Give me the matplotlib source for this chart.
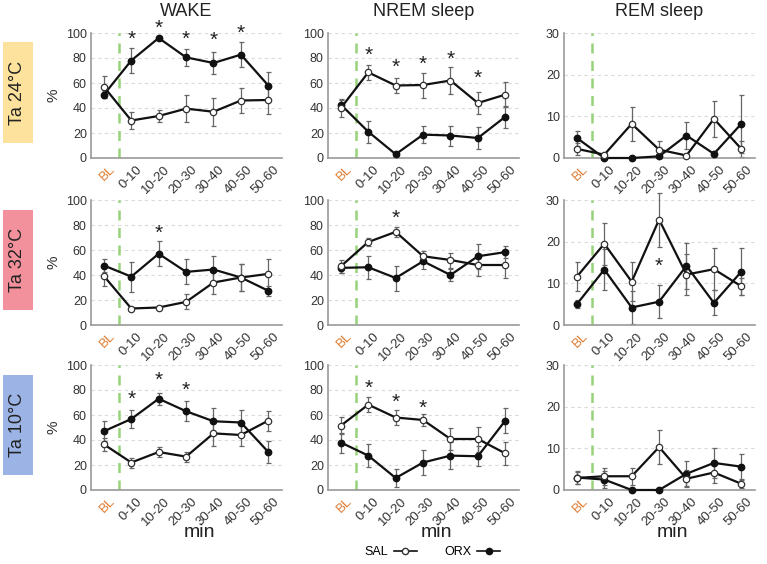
import matplotlib
matplotlib.use('Agg')
import matplotlib.pyplot as plt
from matplotlib.lines import Line2D
from matplotlib.patches import Rectangle
from matplotlib.transforms import ScaledTranslation

plt.rcParams['font.family'] = ['Liberation Sans', 'DejaVu Sans']

categories = ['BL', '0-10', '10-20', '20-30', '30-40', '40-50', '50-60']
states = ['WAKE', 'NREM sleep', 'REM sleep']
temps = ['Ta 24°C', 'Ta 32°C', 'Ta 10°C']
temp_colors = ['#FCE29C', '#F2919B', '#9BB3E5']

# ---- Ta 24°C ----
wake24_sal = [57, 30, 33.6, 39.5, 37, 46, 46.4]
wake24_sal_err = [9, 7, 5, 11, 11, 10, 11]
wake24_orx = [50.7, 78, 96, 80.5, 76, 82.7, 58]
wake24_orx_err = [3, 10, 1, 7, 9, 10, 11]
wake24_star_idx = [1, 2, 3, 4, 5]
wake24_star_y = [95, 104, 95, 94, 100]

nrem24_sal = [40, 68.5, 58, 58.4, 62, 44, 50.7]
nrem24_sal_err = [7, 6, 6, 10, 11, 9, 10]
nrem24_orx = [42.7, 21, 3, 18.7, 18, 16, 33]
nrem24_orx_err = [4, 9, 1, 7, 8, 9, 9]
nrem24_star_idx = [1, 2, 3, 4, 5]
nrem24_star_y = [82, 72.5, 75, 79, 63.5]

rem24_sal = [2.2, 0.8, 8.2, 2.0, 0.6, 9.4, 2.2]
rem24_sal_err = [1.5, 0.5, 4, 2, 0.4, 4.3, 2]
rem24_orx = [4.8, 0, 0, 0.4, 5.4, 1.0, 8.2]
rem24_orx_err = [1.8, 0, 0, 0.3, 3.3, 0.8, 7]
rem24_star_idx = []
rem24_star_y = []

# ---- Ta 32°C ----
wake32_sal = [39.2, 13.2, 14, 18.5, 34, 38, 40.9]
wake32_sal_err = [8, 1, 1, 6, 9, 11, 12]
wake32_orx = [47.6, 38.7, 57, 42.5, 44.4, 38, 27.4]
wake32_orx_err = [5, 12, 10, 10, 11, 11, 4]
wake32_star_idx = [2]
wake32_star_y = [73]

nrem32_sal = [47, 66.4, 74.5, 55, 52, 48, 48]
nrem32_sal_err = [5, 3, 4, 4, 6, 9, 10]
nrem32_orx = [45.7, 46.2, 37.6, 51, 40, 55, 58.3]
nrem32_orx_err = [4, 9, 10, 6, 5, 10, 5]
nrem32_star_idx = [2]
nrem32_star_y = [85]

rem32_sal = [11.6, 19.5, 10.4, 25.3, 12.1, 13.4, 9.3]
rem32_sal_err = [3.5, 5, 4.7, 6.5, 5, 5, 2]
rem32_orx = [5.0, 13.3, 4.2, 5.6, 14.2, 5.3, 12.8]
rem32_orx_err = [1, 5, 4, 4, 5.5, 3, 5.6]
rem32_star_idx = [3]
rem32_star_y = [14.1]

# ---- Ta 10°C ----
wake10_sal = [36.5, 22, 30.4, 26.7, 45.3, 44, 55.5]
wake10_sal_err = [5, 4, 4, 4, 10, 9, 8]
wake10_orx = [47, 56.8, 73, 63, 55, 54, 30.4]
wake10_orx_err = [8, 7, 5, 8, 11, 10, 9]
wake10_star_idx = [1, 2, 3]
wake10_star_y = [72.5, 88, 80]

nrem10_sal = [51.5, 68.3, 58, 56, 40.8, 40.8, 29.3]
nrem10_sal_err = [7, 6, 6, 5, 9, 10, 9]
nrem10_orx = [38, 27.5, 9.6, 22, 27.5, 27, 55.5]
nrem10_orx_err = [8, 9, 7, 10, 11, 8, 10]
nrem10_star_idx = [1, 2, 3]
nrem10_star_y = [81, 70, 65.6]

rem10_sal = [2.9, 3.3, 3.3, 10.3, 2.7, 4.2, 1.5]
rem10_sal_err = [1.5, 2, 2, 4, 2, 2.4, 1]
rem10_orx = [3.0, 2.5, 0, 0, 3.9, 6.5, 5.6]
rem10_orx_err = [1.5, 2, 0, 0, 3, 3.7, 3]
rem10_star_idx = []
rem10_star_y = []

panels = [
    [(wake24_sal, wake24_sal_err, wake24_orx, wake24_orx_err, wake24_star_idx, wake24_star_y),
     (nrem24_sal, nrem24_sal_err, nrem24_orx, nrem24_orx_err, nrem24_star_idx, nrem24_star_y),
     (rem24_sal, rem24_sal_err, rem24_orx, rem24_orx_err, rem24_star_idx, rem24_star_y)],
    [(wake32_sal, wake32_sal_err, wake32_orx, wake32_orx_err, wake32_star_idx, wake32_star_y),
     (nrem32_sal, nrem32_sal_err, nrem32_orx, nrem32_orx_err, nrem32_star_idx, nrem32_star_y),
     (rem32_sal, rem32_sal_err, rem32_orx, rem32_orx_err, rem32_star_idx, rem32_star_y)],
    [(wake10_sal, wake10_sal_err, wake10_orx, wake10_orx_err, wake10_star_idx, wake10_star_y),
     (nrem10_sal, nrem10_sal_err, nrem10_orx, nrem10_orx_err, nrem10_star_idx, nrem10_star_y),
     (rem10_sal, rem10_sal_err, rem10_orx, rem10_orx_err, rem10_star_idx, rem10_star_y)],
]

W, H = 767, 564
fig = plt.figure(figsize=(W / 100, H / 100), dpi=100)

col_left = [91, 328, 564]
ax_w = 191
row_top = [33, 200, 365]
ax_h = 125

x = list(range(len(categories)))
label_shift = ScaledTranslation(5 / 100, 0, fig.dpi_scale_trans)
for r in range(3):
    for c in range(3):
        sal, sal_e, orx, orx_e, sidx, sy = panels[r][c]
        ax = fig.add_axes([col_left[c] / W, 1 - (row_top[r] + ax_h) / H, ax_w / W, ax_h / H])
        ymax = 30 if c == 2 else 100
        ax.set_ylim(0, ymax)
        ax.set_xlim(-0.47, 6.5)
        ax.set_yticks(range(0, ymax + 1, 10 if c == 2 else 20))
        ax.grid(axis='y', color='#dadada', linestyle=(0, (3, 3)), linewidth=0.8)
        ax.set_axisbelow(True)
        for s in ['top', 'right']:
            ax.spines[s].set_visible(False)
        for s in ['left', 'bottom']:
            ax.spines[s].set_color('#9a9a9a')
            ax.spines[s].set_linewidth(1.2)
        ax.axvline(0.55, color='#98D27A', linestyle=(0, (4, 3)), linewidth=1.8, zorder=1)
        # error bars
        ax.errorbar(x, sal, yerr=sal_e, fmt='none', ecolor='#666666', elinewidth=0.9,
                    capsize=1.8, capthick=0.9, zorder=2, clip_on=False)
        ax.errorbar(x, orx, yerr=orx_e, fmt='none', ecolor='#666666', elinewidth=0.9,
                    capsize=1.8, capthick=0.9, zorder=2, clip_on=False)
        ax.plot(x, orx, color='#111111', linewidth=1.6, marker='o', markersize=4.6,
                markerfacecolor='#111111', markeredgecolor='#111111', zorder=3, clip_on=False)
        ax.plot(x, sal, color='#111111', linewidth=1.6, marker='o', markersize=4.6,
                markerfacecolor='white', markeredgecolor='#333333', markeredgewidth=0.9,
                zorder=4, clip_on=False)
        for i, yv in zip(sidx, sy):
            ax.text(i, yv, '*', ha='center', va='center', fontsize=15, color='#222222',
                    clip_on=False)
        ax.set_xticks(x)
        ax.set_xticklabels(categories, rotation=45, ha='right', rotation_mode='anchor',
                           fontsize=9.5, color='#333333')
        ax.tick_params(axis='y', length=0, labelsize=9, labelcolor='#333333', pad=3)
        ax.tick_params(axis='x', length=0, labelsize=9.5, labelcolor='#333333', pad=4)
        for lab in ax.get_xticklabels():
            lab.set_transform(lab.get_transform() + label_shift)
        ax.get_xticklabels()[0].set_color('#E07B30')
        if r == 0:
            ax.set_title(states[c], fontsize=13, pad=12, color='#222222')
        if r == 2:
            ax.text(0.57, -0.34, 'min', transform=ax.transAxes, ha='center', va='center',
                    fontsize=14, color='#222222')
        if c == 0:
            yc = 1 - (row_top[r] + ax_h / 2) / H
            fig.text(53 / W, yc, '%', rotation=90, ha='center', va='center', fontsize=11,
                     color='#333333')
            bh = 100 / H
            fig.patches.append(Rectangle((3 / W, yc + 3 / H - bh / 2), 30 / W, bh,
                                         transform=fig.transFigure, facecolor=temp_colors[r],
                                         edgecolor='none'))
            fig.text(18 / W, yc + 3 / H, temps[r], rotation=90, ha='center', va='center',
                     fontsize=13, color='#222222')

handles = [Line2D([], [], color='#111111', lw=1.2, marker='o', markersize=4.5,
                  markerfacecolor='white', markeredgecolor='#333333'),
           Line2D([], [], color='#111111', lw=1.2, marker='o', markersize=4.5,
                  markerfacecolor='#111111')]
fig.legend(handles, ['SAL', 'ORX'], ncol=2, markerfirst=False, frameon=False,
           loc='center', bbox_to_anchor=(432 / W, 1 - 552 / H), fontsize=9,
           handlelength=1.8, columnspacing=2.2, handletextpad=0.5)

fig.savefig('out.png', dpi=100)
